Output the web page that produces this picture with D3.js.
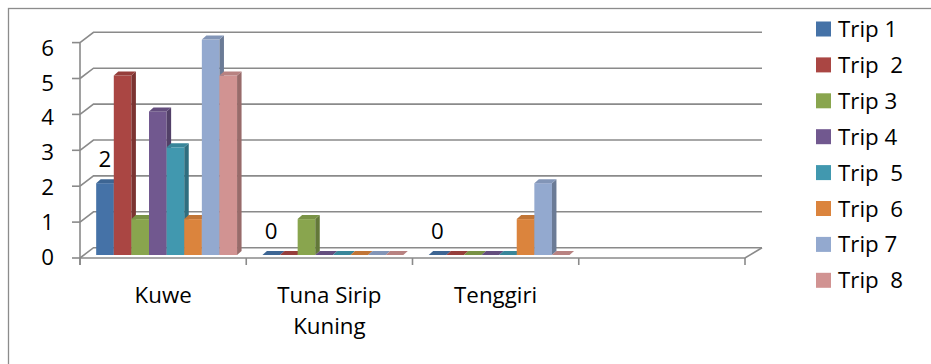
<!DOCTYPE html>
<html><head><meta charset="utf-8">
<script src="https://cdn.jsdelivr.net/npm/d3@7"></script>
<style>body{margin:0;background:#fff}svg{display:block}text{font-family:"Open Sans",Lato,sans-serif;fill:#000}</style>
</head><body><svg id="c" width="931" height="364"></svg>
<script>
const categories = ["Kuwe", "Tuna Sirip|Kuning", "Tenggiri", ""];
const seriesNames = ["Trip 1", "Trip  2", "Trip 3", "Trip 4", "Trip  5", "Trip  6", "Trip 7", "Trip  8"];
const kuwe     = [2, 5, 1, 4, 3, 1, 6, 5];
const tunaSirip = [0, 0, 1, 0, 0, 0, 0, 0];
const tenggiri = [0, 0, 0, 0, 0, 1, 2, 0];
const empty    = [null, null, null, null, null, null, null, null];
const yTicks = [0, 1, 2, 3, 4, 5, 6];
const colors = ["#4572a7", "#aa4643", "#89a54e", "#71588f", "#4198af", "#db843d", "#93a9cf", "#d19392"];
const labelSeries = 0; // data labels shown for Trip 1 only

const values = [kuwe, tunaSirip, tenggiri, empty];
const svg = d3.select("#c");
const FONT = 22.3;

// border
svg.append("rect").attr("x", 8.5).attr("y", 8.5).attr("width", 940).attr("height", 400)
  .attr("fill", "none").attr("stroke", "#8c8c8c").attr("stroke-width", 1.3);

const x0 = d3.scaleBand().domain(d3.range(categories.length)).range([80, 745]).paddingInner(0).paddingOuter(0);
const y = d3.scaleLinear().domain([0, 6]).range([258, 42.6]);
const wallDX = 13.5, wallDY = 10.3;       // depth of the walls
const barShiftX = 3.5, barShiftY = 3;     // bars placed partly into the depth
const barDX = 4.5, barDY = 4;             // bar depth
const x1 = d3.scaleBand().domain(d3.range(seriesNames.length)).range([0, x0.bandwidth()]).paddingInner(0).paddingOuter(0.72);

const grid = svg.append("g").attr("stroke", "#8a8a8a").attr("stroke-width", 1.6).attr("fill", "none");
yTicks.forEach(v => {
  const yf = y(v), yb = y(v) - wallDY;
  grid.append("path").attr("d", `M${80},${yf}L${80 + wallDX},${yb}L${762},${yb}`);
});
grid.append("path").attr("d", `M80,${y(0)}L745,${y(0)}L${745 + wallDX + 3.5},${y(0) - wallDY}`);
grid.append("path").attr("d", `M80,${y(6)}L80,${y(0) + 7}`);
yTicks.forEach(v => grid.append("path").attr("d", `M72,${y(v)}L80,${y(v)}`));
d3.range(categories.length + 1).forEach(i => {
  const xx = i < categories.length ? x0(i) : x0.range()[1];
  grid.append("path").attr("d", `M${xx},${y(0)}L${xx},${y(0) + 7}`);
});

// y labels
svg.append("g").selectAll("text").data(yTicks).join("text")
  .attr("x", 54).attr("y", v => y(v) + 7 + v * 1.0)
  .attr("text-anchor", "end").attr("font-size", FONT).text(v => v);

// bars
const barsG = svg.append("g");
values.forEach((vals, ci) => {
  vals.forEach((v, si) => {
    if (v === null) return;
    const xL = x0(ci) + x1(si) + barShiftX;
    const w = x1.bandwidth();
    const base = y(0) - barShiftY;
    const top = y(v) - barShiftY;
    const c = d3.color(colors[si]);
    const g = barsG.append("g");
    if (v > 0) {
      g.append("rect").attr("x", xL).attr("y", top).attr("width", w).attr("height", base - top).attr("fill", colors[si]);
      g.append("path").attr("d", `M${xL + w},${base}L${xL + w + barDX},${base - barDY}L${xL + w + barDX},${top - barDY}L${xL + w},${top}Z`)
        .attr("fill", c.darker(0.9));
    }
    g.append("path").attr("d", `M${xL},${top}L${xL + barDX},${top - barDY}L${xL + w + barDX},${top - barDY}L${xL + w},${top}Z`)
      .attr("fill", c.darker(0.35));
    if (si === labelSeries) {
      svg.append("text").attr("x", xL + w / 2).attr("y", top - 16)
        .attr("text-anchor", "middle").attr("font-size", FONT).text(v);
    }
  });
});

// category labels
categories.forEach((c, i) => {
  const t = svg.append("text").attr("text-anchor", "middle").attr("font-size", FONT)
    .attr("x", x0(i) + x0.bandwidth() / 2).attr("y", 303);
  c.split("|").forEach((line, k) => t.append("tspan").attr("x", x0(i) + x0.bandwidth() / 2).attr("dy", k ? 31 : 0).text(line));
});

// legend
const leg = svg.append("g").selectAll("g").data(seriesNames).join("g")
  .attr("transform", (d, i) => `translate(816,${29 + i * 35.9})`);
leg.append("rect").attr("x", 0).attr("y", -7.5).attr("width", 15).attr("height", 15).attr("fill", (d, i) => colors[i]);
leg.append("text").attr("x", 22).attr("y", 8).attr("font-size", FONT).style("white-space", "pre").text(d => d);
</script></body></html>
